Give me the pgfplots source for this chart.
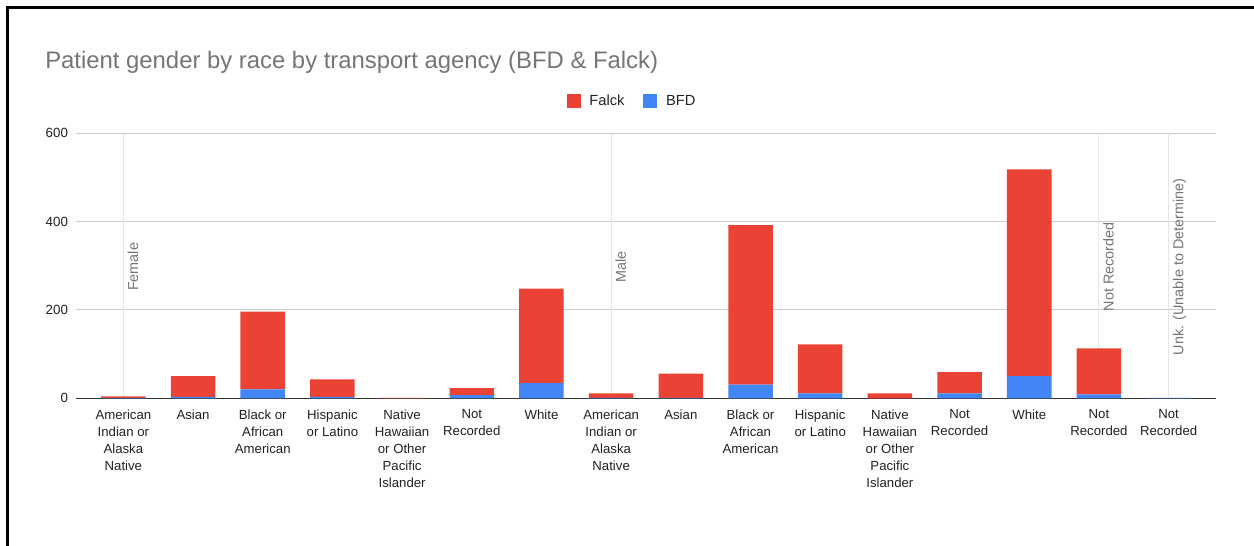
\documentclass[border=0pt]{standalone}
\usepackage{pgfplots}
\pgfplotsset{compat=1.18}
\usepackage{fontspec}
\setmainfont{Liberation Sans}
\definecolor{falck}{HTML}{EA4335}
\definecolor{bfd}{HTML}{4285F4}
\definecolor{titlegray}{HTML}{757575}
\definecolor{gridgray}{HTML}{CCCCCC}
\definecolor{grpgray}{HTML}{E6E6E6}
\definecolor{axisdark}{HTML}{333333}
\definecolor{labelblack}{HTML}{222222}

% 1px = 0.75pt
\pgfplotstableread{
x bfd falck
0 1 3
1 3 47
2 20 176
3 3 40
4 0 1
5 7 16
6 34 214
7 1 10
8 1 55
9 31 361
10 11 111
11 0 11
12 11 48
13 50 468
14 9 104
15 1 0
}\racedata

\begin{document}
\begin{tikzpicture}
\path[use as bounding box] (0,0) rectangle (940.5pt,409.5pt);
\draw[line width=2.25pt] (5.625pt,0) -- (5.625pt,403.875pt) -- (940.5pt,403.875pt);

\node[anchor=base west, text=titlegray, font=\fontsize{17.9}{20}\selectfont, inner sep=0pt]
  at (33.75pt,357.75pt) {Patient gender by race by transport agency (BFD \& Falck)};

\begin{axis}[
  at={(57pt,110.8pt)}, anchor=south west,
  scale only axis,
  width=855pt, height=198.75pt,
  ybar stacked,
  bar width=0.639,
  xmin=-0.68, xmax=15.68,
  ymin=0, ymax=600,
  ytick={0,200,400,600},
  xtick={0,...,15},
  xticklabels={{American\\Indian or\\Alaska\\Native},Asian,{Black or\\African\\American},{Hispanic\\or Latino},{Native\\Hawaiian\\or Other\\Pacific\\Islander},{Not\\Recorded},White,{American\\Indian or\\Alaska\\Native},Asian,{Black or\\African\\American},{Hispanic\\or Latino},{Native\\Hawaiian\\or Other\\Pacific\\Islander},{Not\\Recorded},White,{Not\\Recorded},{Not\\Recorded}},
  xticklabel style={align=center, font=\fontsize{9.9}{12.75}\selectfont, text=labelblack, yshift=-5pt},
  yticklabel style={font=\fontsize{10}{12}\selectfont, text=labelblack, xshift=-2.5pt},
  /pgf/number format/assume math mode=true,
  major tick length=0pt,
  ymajorgrids,
  major grid style={gridgray, line width=0.75pt},
  extra x ticks={0,7,14,15},
  extra x tick labels={},
  extra x tick style={grid=major, major grid style={grpgray, line width=0.75pt}},
  axis x line=bottom,
  axis y line=left,
  x axis line style={-, axisdark, line width=1pt},
  y axis line style={draw=none},
  legend columns=2,
  legend style={draw=none, at={(0.488,1.124)}, anchor=center,
    font=\fontsize{11}{13}\selectfont, text=labelblack,
    nodes={text height=7.9pt, text depth=0pt},
    /tikz/every odd column/.append style={column sep=5pt},
    /tikz/every even column/.append style={column sep=12pt}},
  clip=false,
]
\addplot[fill=bfd, draw=none, forget plot] table[x=x, y=bfd] {\racedata};
\addplot[fill=falck, draw=none, forget plot] table[x=x, y=falck] {\racedata};
\addlegendimage{legend image code/.code={\fill[falck] (0pt,-4.875pt) rectangle (9.75pt,4.875pt);}}
\addlegendentry{Falck}
\addlegendimage{legend image code/.code={\fill[bfd] (0pt,-4.875pt) rectangle (9.75pt,4.875pt);}}
\addlegendentry{BFD}
\node[rotate=90, anchor=north, text=titlegray, font=\fontsize{10.8}{12}\selectfont, inner sep=3pt, xshift=1.5pt] at (axis cs:0,293) {Female};
\node[rotate=90, anchor=north, text=titlegray, font=\fontsize{10.8}{12}\selectfont, inner sep=3pt, xshift=1.5pt] at (axis cs:7,293) {Male};
\node[rotate=90, anchor=north, text=titlegray, font=\fontsize{10.8}{12}\selectfont, inner sep=3pt, xshift=1.5pt] at (axis cs:14,293) {Not Recorded};
\node[rotate=90, anchor=north, text=titlegray, font=\fontsize{10.8}{12}\selectfont, inner sep=3pt, xshift=1.5pt] at (axis cs:15,293) {Unk. (Unable to Determine)};
\end{axis}
\end{tikzpicture}
\end{document}
